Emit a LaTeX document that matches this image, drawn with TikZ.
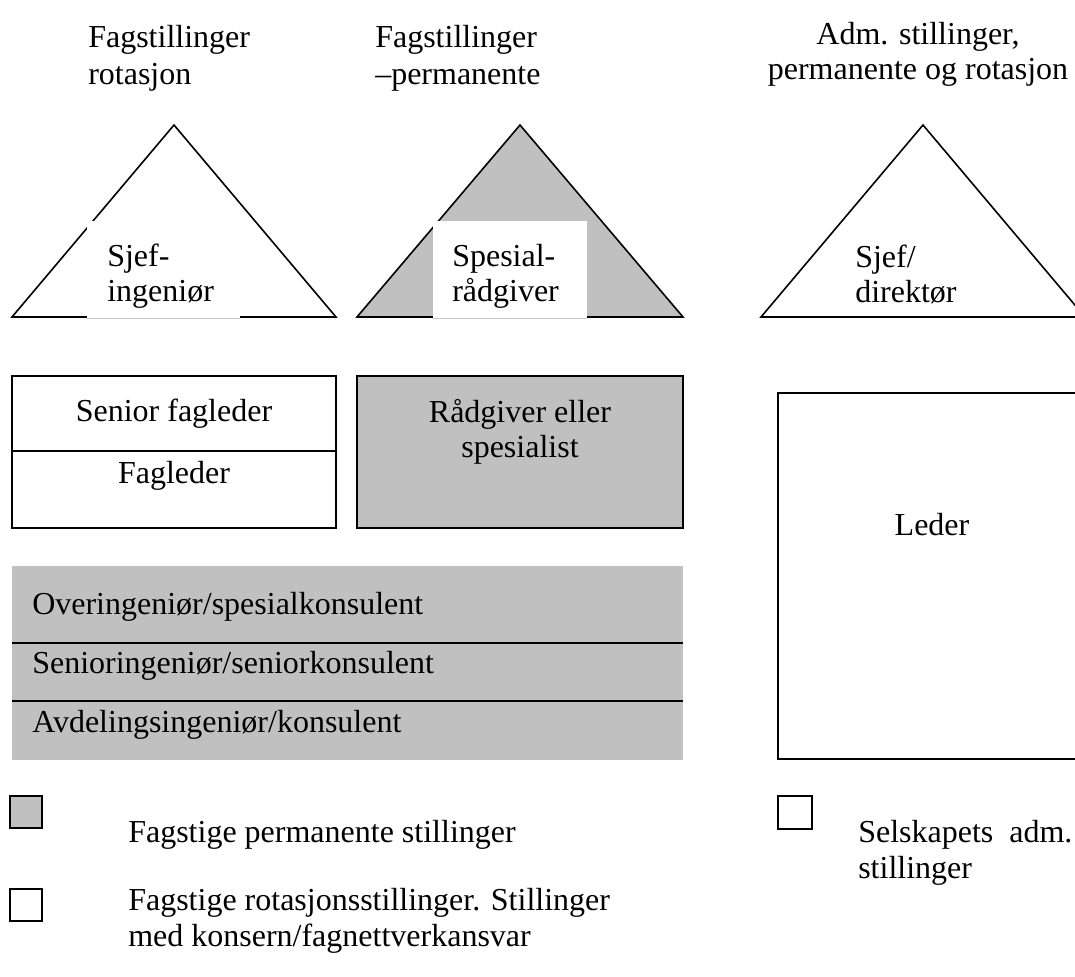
\documentclass[tikz,border=0pt]{standalone}
\usepackage{fontspec}
\setmainfont{Liberation Serif}
\definecolor{rankgray}{HTML}{C0C0C0}
\begin{document}
\begin{tikzpicture}[x=0.75pt,y=-0.75pt,
  outline/.style={draw=black,line width=1.2pt},
  txt/.style={inner sep=0pt,font=\fontsize{24}{27}\selectfont},
  lbl/.style={txt,anchor=base west},
  ctr/.style={txt,anchor=base},
  keybox/.style={draw=black,line width=0.9pt}]
\useasboundingbox (0,0) rectangle (1075,976);
\clip (0,0) rectangle (1075,976);

% column headings
\node[lbl] (h1a) at (88,47) {Fagstillinger};
\node[lbl] (h1b) at (88,84) {rotasjon};
\node[lbl] (h2a) at (375,47) {Fagstillinger};
\node[lbl] (h2b) at (375,84) {--permanente};
\node[ctr] (h3a) at (918,44) {Adm. stillinger,};
\node[ctr] (h3b) at (918,79) {permanente og rotasjon};

% top of each ladder
\draw[outline,fill=white] (12,317) -- (174,125) -- (336,317) -- cycle;
\fill[white] (87,221) rectangle (240,318.5);
\draw[gray!45,line width=0.4pt] (87,318) -- (240,318);
\node[lbl] (t1a) at (107,266) {Sjef-};
\node[lbl] (t1b) at (107,301) {ingeniør};

\draw[outline,fill=rankgray] (357,317) -- (520,125) -- (683,317) -- cycle;
\fill[white] (433,221) rectangle (587,318.5);
\draw[gray!45,line width=0.4pt] (433,318) -- (587,318);
\node[lbl] (t2a) at (452,266) {Spesial-};
\node[lbl] (t2b) at (452,301) {rådgiver};

\draw[outline,fill=white] (761,317) -- (923,125) -- (1085,317) -- cycle;
\node[lbl] (t3a) at (855,267) {Sjef/};
\node[lbl] (t3b) at (855,302) {direktør};

% middle level
\draw[outline] (12,376) rectangle (336,528);
\draw[outline] (12,451) -- (336,451);
\node[ctr] (m1a) at (174,421) {Senior fagleder};
\node[ctr] (m1b) at (174,483) {Fagleder};

\draw[outline,fill=rankgray] (357,376) rectangle (683,528);
\node[ctr] (m2a) at (520,422) {Rådgiver eller};
\node[ctr] (m2b) at (520,457) {spesialist};

\draw[outline] (778,393) rectangle (1090,759);
\node[ctr] (m3) at (932,535) {Leder};

% shared lower steps
\fill[rankgray] (12,566) rectangle (683,760);
\draw[outline] (12,643) -- (683,643);
\draw[outline] (12,701) -- (683,701);
\node[lbl] (s1) at (32,614) {Overingeniør/spesialkonsulent};
\node[lbl] (s2) at (32,673) {Senioringeniør/seniorkonsulent};
\node[lbl] (s3) at (32,732) {Avdelingsingeniør/konsulent};

% legend
\draw[keybox,fill=rankgray] (10,796) rectangle (42,828);
\node[lbl] (k1) at (128,842) {Fagstige permanente stillinger};
\draw[keybox,fill=white] (10,889) rectangle (42,921);
\node[lbl] (k2a) at (128,910) {Fagstige rotasjonsstillinger. Stillinger};
\node[lbl] (k2b) at (128,946) {med konsern/fagnettverkansvar};
\draw[keybox,fill=white] (778,796) rectangle (812,829);
\node[lbl] (k3a) at (858,842) {Selskapets\hspace{0.5em}adm.};
\node[lbl] (k3b) at (858,878) {stillinger};
\end{tikzpicture}
\end{document}
